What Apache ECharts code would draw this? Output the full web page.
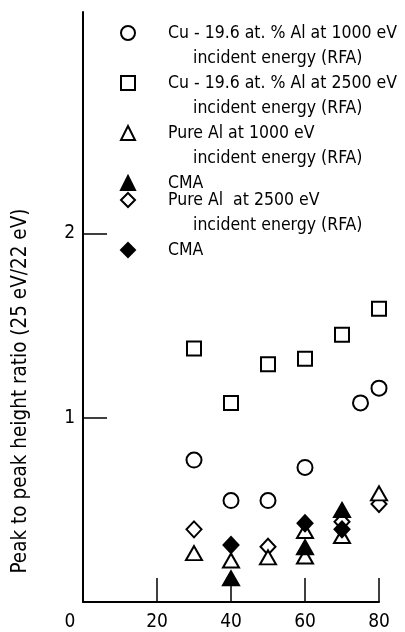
<!DOCTYPE html>
<html>
<head>
<meta charset="utf-8">
<script src="https://cdn.jsdelivr.net/npm/echarts@6/dist/echarts.min.js"></script>
<style>
html,body{margin:0;padding:0;background:#fff}
#chart{width:405px;height:632px}
</style>
</head>
<body>
<div id="chart"></div>
<script>
var FONT = "'Liberation Sans Narrow', 'DejaVu Sans Condensed', sans-serif"

//坐标轴刻度
var xTicks = [20, 40, 60, 80]
var xLabels = [0, 20, 40, 60, 80]
var yTicks = [1, 2]

//各组数据 [x, 比值]
var cuLow = [[30, 0.77], [40, 0.55], [50, 0.55], [60, 0.73], [75, 1.08], [80, 1.16]]
var cuHigh = [[30, 1.375], [40, 1.08], [50, 1.29], [60, 1.32], [70, 1.45], [80, 1.59]]
var alLowRfa = [[30, 0.265], [40, 0.225], [50, 0.242], [60, 0.385], [60, 0.247], [70, 0.358], [80, 0.589]]
var alLowCma = [[40, 0.128], [60, 0.297], [70, 0.499]]
var alHighRfa = [[30, 0.394], [50, 0.30], [70, 0.435], [80, 0.531]]
var alHighCma = [[40, 0.309], [60, 0.427], [70, 0.394]]

//图例文字
var legendText = {
    cuLow: ['Cu - 19.6 at. % Al at 1000 eV', 'incident energy (RFA)'],
    cuHigh: ['Cu - 19.6 at. % Al at 2500 eV', 'incident energy (RFA)'],
    alLowRfa: ['Pure Al at 1000 eV', 'incident energy (RFA)'],
    alLowCma: ['CMA', ' '],
    alHighRfa: ['Pure Al  at 2500 eV', 'incident energy (RFA)'],
    alHighCma: ['CMA', ' ']
}

function makeSeries (name, data, symbol, size, filled) {
    return {
        name: name,
        type: 'scatter',
        data: data,
        symbol: symbol,
        symbolSize: size,
        itemStyle: {
            color: filled ? '#000' : '#fff',
            borderColor: '#000',
            borderWidth: 2,
            opacity: 1
        },
        emphasis: { disabled: true }
    }
}

//图例 每项三行: 空行/第一行/第二行, 图标对齐第一行
function makeLegend (names, top) {
    return {
        orient: 'vertical',
        left: 120,
        top: top,
        padding: 0,
        itemWidth: 14,
        itemHeight: 14,
        itemGap: -25,
        selectedMode: false,
        data: names,
        formatter: function (name) {
            var t = legendText[name]
            return '{e| }\n{a|' + t[0] + '}\n{b|' + t[1] + '}'
        },
        textStyle: {
            fontFamily: FONT,
            fontSize: 17.5,
            color: '#000',
            lineHeight: 25,
            rich: {
                e: { fontSize: 17.5, lineHeight: 25 },
                a: { fontSize: 17.5, lineHeight: 25, fontFamily: FONT, color: '#000', padding: [0, 0, 0, 28] },
                b: { fontSize: 17.5, lineHeight: 25, fontFamily: FONT, color: '#000', padding: [0, 0, 0, 53] }
            }
        }
    }
}

var chartDom = document.getElementById('chart')
var chart = echarts.init(chartDom)

var option = {
    animation: false,
    textStyle: { fontFamily: FONT },
    grid: { left: 83, right: 26, top: 12, bottom: 30 },
    legend: [
        makeLegend(['cuLow', 'cuHigh', 'alLowRfa', 'alLowCma'], -4.5),
        makeLegend(['alHighRfa', 'alHighCma'], 162.5)
    ],
    xAxis: {
        type: 'value',
        min: 0,
        max: 80,
        interval: 20,
        splitLine: { show: false },
        axisLine: { lineStyle: { color: '#000', width: 2 } },
        axisTick: {
            inside: true,
            length: 24,
            customValues: xTicks,
            lineStyle: { color: '#000', width: 1.5 }
        },
        axisLabel: {
            customValues: xLabels,
            margin: 11,
            color: '#000',
            fontSize: 19,
            fontFamily: FONT,
            formatter: function (v) {
                return v === 0 ? '{z|0}' : String(v)
            },
            rich: {
                z: { fontSize: 19, fontFamily: FONT, color: '#000', padding: [0, 26, 0, 0] }
            }
        }
    },
    yAxis: {
        type: 'value',
        min: 0,
        max: 3.2,
        interval: 1,
        splitLine: { show: false },
        axisLine: { lineStyle: { color: '#000', width: 2 } },
        axisTick: {
            inside: true,
            length: 24,
            customValues: yTicks,
            lineStyle: { color: '#000', width: 1.5 }
        },
        axisLabel: {
            customValues: yTicks,
            margin: 8,
            color: '#000',
            fontSize: 19,
            fontFamily: FONT
        },
        name: 'Peak to peak height ratio (25 eV/22 eV)',
        nameLocation: 'middle',
        nameGap: 52,
        nameTextStyle: {
            color: '#000',
            fontSize: 20.5,
            fontFamily: FONT,
            padding: [0, 168, 0, 0]
        }
    },
    series: [
        makeSeries('cuLow', cuLow, 'circle', 15, false),
        makeSeries('cuHigh', cuHigh, 'rect', 14, false),
        makeSeries('alHighRfa', alHighRfa, 'diamond', [15, 16], false),
        makeSeries('alLowRfa', alLowRfa, 'triangle', [16, 14], false),
        makeSeries('alHighCma', alHighCma, 'diamond', [15, 16], true),
        makeSeries('alLowCma', alLowCma, 'triangle', [16, 14], true)
    ]
}

chart.setOption(option)

window.onresize = function () {
    chart.resize()
}
</script>
</body>
</html>
